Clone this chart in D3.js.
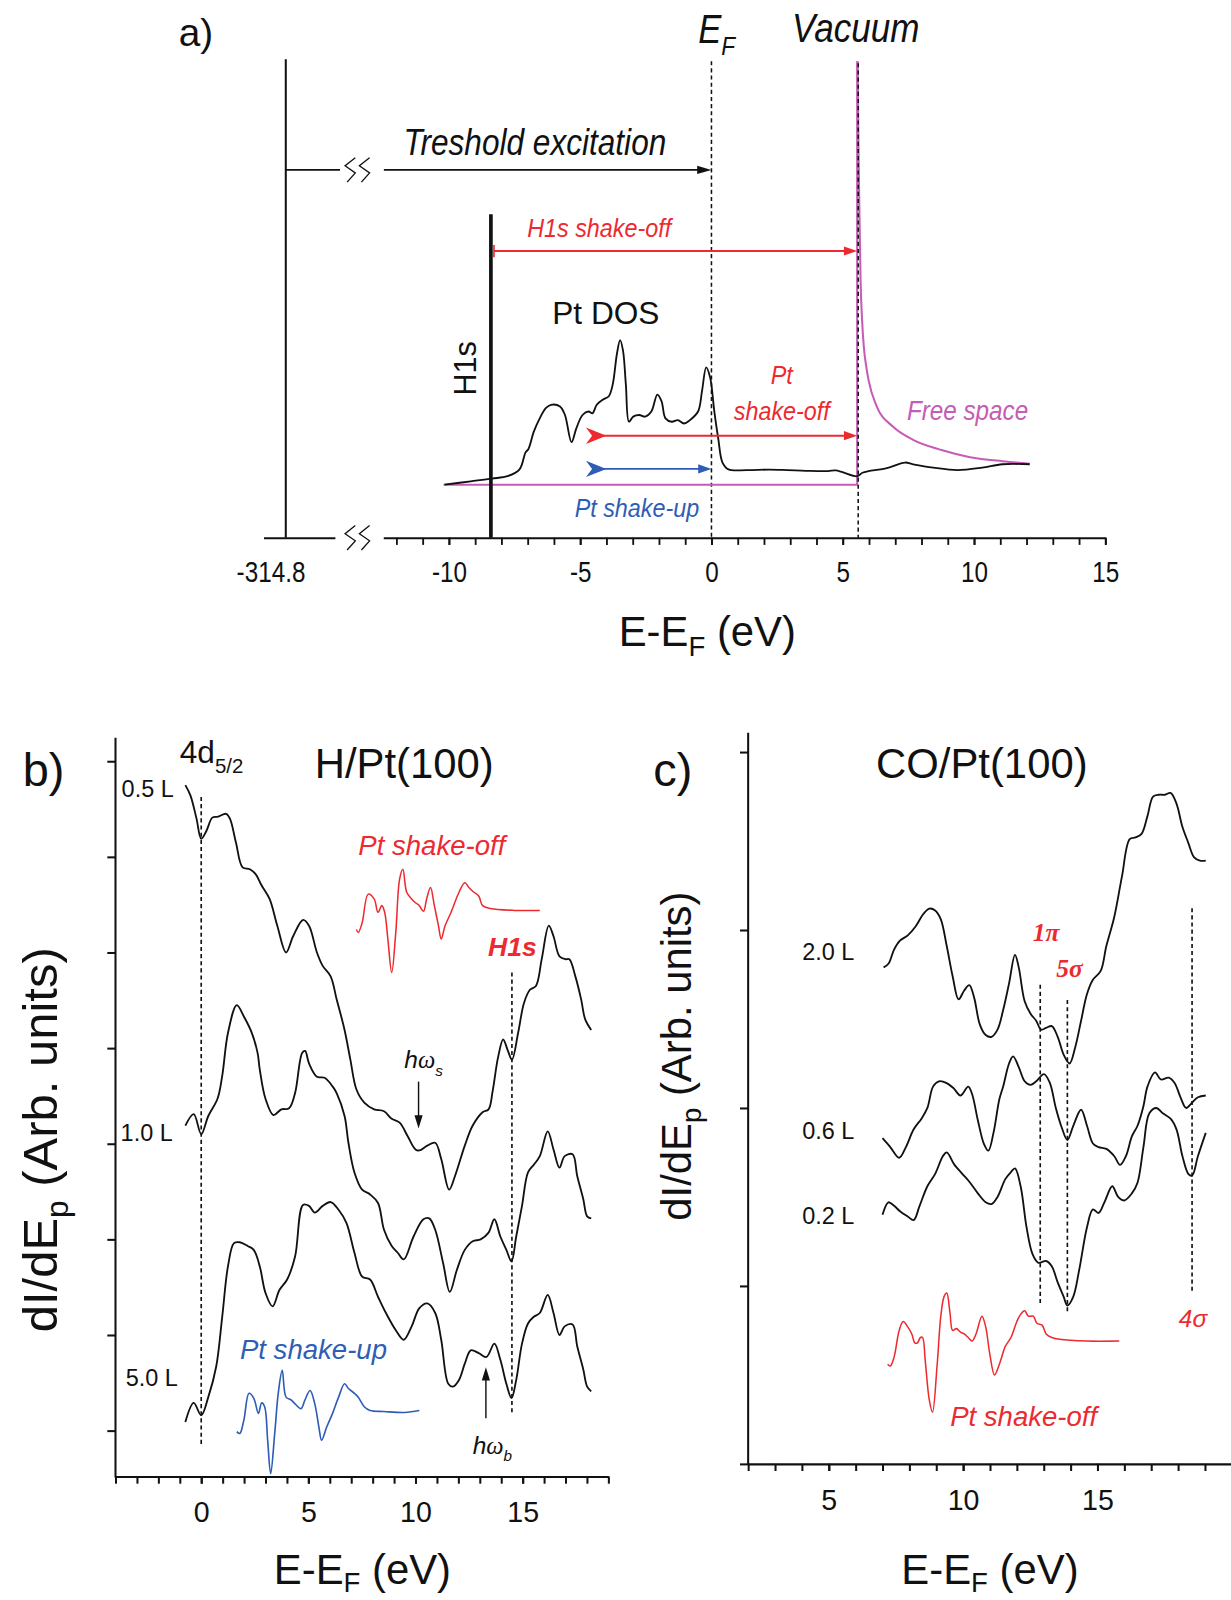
<!DOCTYPE html>
<html><head><meta charset="utf-8">
<script src="https://cdn.jsdelivr.net/npm/d3@7"></script>
<style>
html,body{margin:0;padding:0;background:#fff;}
svg{display:block;font-family:"Liberation Sans",Arial,Helvetica,sans-serif;}
</style></head><body>
<svg id="fig" width="1231" height="1600" viewBox="0 0 1206 1568"></svg>
<script>
// ---------------- energy levels (eV relative to E_F) ----------------
const coreLevel = -314.8;
const h1sLevel = -8.4;
const fermiLevel = 0;
const vacuumLevel = 5.55;
const shakeStart = -4.78;

// ---------------- panel a: Pt density of states [E, intensity] ----------------
const ptDOS = [[-10.17,0],[-9.17,3.3],[-8.36,6],[-7.77,8.3],[-7.31,15],[-7.08,31.7],[-6.97,35],[-6.77,51.7],
 [-6.54,65],[-6.31,75],[-6.11,78.3],[-5.77,76.7],[-5.58,68.3],[-5.33,41.7],[-5.15,55],[-4.91,68.3],[-4.68,71.7],
 [-4.53,70],[-4.37,78.3],[-4.14,83.3],[-3.91,86.7],[-3.76,98.3],[-3.60,128.3],[-3.48,141.7],[-3.37,131.7],
 [-3.26,98.3],[-3.14,61.7],[-2.98,66.7],[-2.75,68.3],[-2.52,66.7],[-2.29,71.7],[-2.06,88.3],[-1.90,81.7],
 [-1.75,65],[-1.51,61.7],[-1.28,63.3],[-1.05,60],[-0.82,63.3],[-0.51,71.7],[-0.36,91.7],[-0.20,115],[-0.05,105],
 [0.11,71.7],[0.26,45],[0.42,21.7],[0.65,15],[1.34,14.3],[2.2,14.8],[2.89,14.3],[3.6,13.6],[4.44,13.3],[4.74,14],
 [5.36,9],[5.55,8.3],[5.75,11.7],[5.98,13.3],[6.45,15],[6.75,16.7],[7.37,21.7],[7.68,20],[8.45,16.7],[9.38,14.3],
 [10.31,16.7],[11.08,20],[12.12,20]];
// free-electron continuum above the vacuum level
const freeSpace = [[5.57,415],[5.6,330],[5.64,260],[5.68,200],[5.74,160],[5.8,136],[5.9,115],[5.98,103],
 [6.29,77],[6.91,57],[7.68,44],[8.76,34],[9.85,27],[11.08,23],[12.12,20.6]];
const aTickLabels = [-10,-5,0,5,10,15];
const aMinorTicks = d3.range(-12, 16, 1);

// ---------------- panel b: H/Pt(100) spectra [E, dI/dEp] ----------------
const curve05L = [[-0.74,6.75],[-0.5,6.64],[-0.22,6.40],[0,6.19],[0.24,6.27],[0.52,6.41],[0.79,6.42],[1.16,6.45],
 [1.34,6.40],[1.62,6.15],[1.93,5.89],[2.27,5.87],[2.54,5.82],[2.82,5.70],[3.19,5.56],[3.55,5.28],[3.96,5.0],
 [4.29,5.17],[4.75,5.34],[5.03,5.28],[5.40,5.0],[5.67,4.86],[6.04,4.75],[6.32,4.51],[6.69,4.19],[6.96,3.88],
 [7.24,3.57],[7.61,3.43],[8.07,3.36],[8.53,3.34],[8.89,3.26],[9.26,3.22],[9.63,3.08],[10.0,2.94],[10.18,2.93],
 [10.55,2.98],[10.92,3.01],[11.20,2.84],[11.57,2.52],[11.84,2.66],[12.30,2.98],[12.67,3.19],[13.13,3.33],
 [13.41,3.36],[13.6,3.55],[13.85,3.9],[14.09,4.09],[14.3,3.98],[14.5,3.88],[14.79,4.16],[15.06,4.47],[15.34,4.61],
 [15.62,4.65],[15.89,4.93],[16.22,5.28],[16.44,5.17],[16.72,4.96],[17.0,4.93],[17.18,4.93],[17.46,4.75],
 [17.73,4.51],[17.92,4.30],[18.2,4.19]];
const curve10L = [[-0.74,3.19],[-0.35,3.31],[0,3.10],[0.33,3.29],[0.76,3.47],[0.98,3.71],[1.25,4.16],[1.66,4.45],
 [1.99,4.33],[2.36,4.16],[2.63,3.95],[2.73,3.78],[3.0,3.47],[3.37,3.30],[3.74,3.36],[4.1,3.37],[4.38,3.53],
 [4.71,3.95],[4.85,3.97],[5.03,3.84],[5.40,3.70],[5.76,3.69],[6.13,3.6],[6.32,3.53],[6.69,3.29],[6.87,3.01],
 [7.15,2.70],[7.51,2.52],[7.88,2.47],[8.25,2.38],[8.53,2.10],[8.89,1.93],[9.17,1.86],[9.45,1.79],[9.91,2.03],
 [10.37,2.21],[10.64,2.22],[10.92,2.10],[11.29,1.75],[11.60,1.45],[11.93,1.68],[12.3,1.89],[12.67,1.98],
 [13.04,2.0],[13.41,2.07],[13.68,2.21],[13.96,2.03],[14.24,1.89],[14.48,1.77],[14.7,2.03],[14.97,2.35],
 [15.25,2.70],[15.52,2.78],[15.8,2.87],[16.17,3.13],[16.44,2.94],[16.72,2.75],[16.96,2.87],[17.33,2.89],
 [17.55,2.66],[17.83,2.42],[18.01,2.24],[18.2,2.22]];
const curve50L = [[-0.74,0.09],[-0.35,0.29],[0,0.16],[0.33,0.35],[0.7,0.67],[0.98,1.19],[1.25,1.72],[1.53,1.96],
 [1.8,1.97],[2.17,1.93],[2.45,1.89],[2.73,1.72],[3.0,1.44],[3.33,1.30],[3.65,1.47],[4.01,1.58],[4.38,1.82],
 [4.75,2.36],[5.03,2.35],[5.3,2.28],[5.67,2.35],[6.04,2.39],[6.41,2.31],[6.78,2.17],[7.15,1.86],[7.51,1.61],
 [7.88,1.58],[8.25,1.40],[8.62,1.23],[9.08,1.05],[9.45,0.95],[9.82,1.09],[10.18,1.28],[10.55,1.33],[10.92,1.23],
 [11.2,0.95],[11.53,0.49],[11.75,0.46],[12.03,0.53],[12.3,0.70],[12.58,0.84],[12.95,0.81],[13.31,0.77],
 [13.68,0.91],[13.96,0.74],[14.24,0.49],[14.48,0.34],[14.7,0.53],[14.97,0.91],[15.25,1.12],[15.52,1.19],
 [15.8,1.23],[16.17,1.42],[16.44,1.23],[16.72,1.0],[16.96,1.09],[17.33,1.11],[17.55,0.88],[17.83,0.64],
 [18.01,0.46],[18.2,0.41]];
const shakeOffB = [[7.24,5.24],[7.33,5.21],[7.51,5.31],[7.79,5.61],[8.07,5.56],[8.25,5.42],[8.43,5.49],[8.56,5.42],
 [8.71,5.14],[8.89,4.79],[9.08,5.21],[9.26,5.77],[9.41,5.87],[9.59,5.63],[9.82,5.56],[10.0,5.52],[10.18,5.49],
 [10.37,5.43],[10.52,5.56],[10.7,5.68],[10.88,5.49],[11.07,5.28],[11.2,5.14],[11.38,5.28],[11.66,5.42],
 [12.03,5.63],[12.3,5.73],[12.49,5.68],[12.67,5.64],[12.95,5.59],[13.13,5.49],[13.5,5.46],[14.6,5.44],[15.8,5.44]];
const shakeUpB = [[1.66,-0.01],[1.8,-0.03],[1.99,0.11],[2.23,0.39],[2.45,0.34],[2.67,0.18],[2.82,0.29],[2.96,0.25],
 [3.1,-0.1],[3.24,-0.45],[3.43,-0.03],[3.6,0.4],[3.78,0.63],[3.96,0.35],[4.2,0.32],[4.38,0.28],[4.66,0.23],
 [4.84,0.32],[5.08,0.42],[5.3,0.28],[5.49,0.04],[5.62,-0.10],[5.86,0.04],[6.13,0.18],[6.41,0.35],[6.69,0.49],
 [6.87,0.44],[7.15,0.39],[7.33,0.35],[7.61,0.25],[7.88,0.21],[8.53,0.2],[9.5,0.19],[10.18,0.21]];
const bTickLabels = [0,5,10,15];
const bMinorTicks = d3.range(-4, 20, 1);
const bYTicks = d3.range(0, 8, 1);
const bMarkers = [0, 14.5];

// ---------------- panel c: CO/Pt(100) spectra [E, dI/dEp] ----------------
const curve20L = [[7.04,1.79],[7.22,1.81],[7.43,1.89],[7.65,1.94],[7.94,1.97],[8.23,2.02],[8.52,2.09],[8.74,2.12],
 [8.96,2.11],[9.17,2.06],[9.39,1.91],[9.61,1.74],[9.83,1.61],[10.04,1.66],[10.23,1.69],[10.41,1.62],[10.62,1.47],
 [10.84,1.41],[11.06,1.40],[11.28,1.44],[11.49,1.55],[11.71,1.70],[11.93,1.86],[12.07,1.79],[12.29,1.60],
 [12.51,1.53],[12.72,1.49],[12.9,1.44],[13.09,1.45],[13.30,1.46],[13.52,1.40],[13.74,1.30],[13.96,1.25],
 [14.17,1.34],[14.39,1.49],[14.61,1.64],[14.83,1.72],[15.12,1.77],[15.33,1.91],[15.62,2.07],[15.91,2.30],
 [16.2,2.51],[16.42,2.52],[16.64,2.54],[16.86,2.64],[17.07,2.75],[17.29,2.76],[17.51,2.76],[17.72,2.77],
 [17.94,2.71],[18.16,2.58],[18.38,2.49],[18.59,2.41],[18.81,2.39],[19.03,2.39]];
const curve06L = [[7.0,0.83],[7.29,0.78],[7.62,0.72],[7.87,0.78],[8.16,0.88],[8.45,0.94],[8.67,1.0],[8.88,1.12],
 [9.10,1.15],[9.39,1.14],[9.65,1.11],[9.9,1.07],[10.19,1.12],[10.33,1.08],[10.55,0.93],[10.77,0.80],[10.94,0.76],
 [11.13,0.86],[11.35,1.05],[11.49,1.12],[11.71,1.25],[11.86,1.29],[12.07,1.23],[12.29,1.15],[12.51,1.13],
 [12.72,1.15],[13.01,1.19],[13.23,1.14],[13.45,1.00],[13.67,0.89],[13.88,0.82],[14.1,0.90],[14.39,0.99],
 [14.61,0.90],[14.83,0.80],[15.04,0.78],[15.33,0.77],[15.62,0.73],[15.84,0.68],[16.06,0.73],[16.28,0.84],
 [16.49,0.90],[16.71,1.01],[16.86,1.12],[17.14,1.20],[17.36,1.16],[17.65,1.17],[17.87,1.14],[18.09,1.06],
 [18.30,1.0],[18.52,1.03],[18.74,1.06],[19.03,1.07]];
const curve02L = [[7.0,0.40],[7.22,0.47],[7.43,0.45],[7.65,0.42],[7.94,0.39],[8.16,0.37],[8.38,0.45],[8.67,0.56],
 [8.96,0.63],[9.25,0.73],[9.39,0.75],[9.68,0.68],[9.97,0.63],[10.26,0.58],[10.55,0.52],[10.84,0.47],[11.06,0.46],
 [11.28,0.50],[11.57,0.60],[11.78,0.64],[11.93,0.66],[12.14,0.56],[12.36,0.33],[12.58,0.18],[12.8,0.13],
 [13.09,0.14],[13.30,0.11],[13.52,0.02],[13.74,-0.06],[13.88,-0.11],[14.1,-0.06],[14.32,0.09],[14.61,0.33],
 [14.83,0.43],[15.04,0.41],[15.26,0.47],[15.55,0.56],[15.77,0.50],[15.99,0.48],[16.28,0.52],[16.49,0.58],
 [16.71,0.78],[16.93,0.97],[17.19,1.0],[17.43,0.97],[17.72,0.94],[17.94,0.88],[18.16,0.73],[18.38,0.63],
 [18.52,0.62],[18.74,0.73],[19.03,0.86]];
const shakeOffC = [[7.19,-0.44],[7.29,-0.45],[7.43,-0.40],[7.62,-0.25],[7.77,-0.20],[7.94,-0.23],[8.09,-0.27],
 [8.2,-0.32],[8.3,-0.32],[8.41,-0.29],[8.49,-0.29],[8.59,-0.42],[8.74,-0.64],[8.86,-0.71],[9.03,-0.45],
 [9.17,-0.17],[9.29,-0.06],[9.39,-0.04],[9.51,-0.15],[9.61,-0.25],[9.75,-0.24],[9.90,-0.26],[10.04,-0.27],
 [10.19,-0.29],[10.33,-0.31],[10.48,-0.27],[10.70,-0.17],[10.84,-0.23],[10.99,-0.38],[11.17,-0.50],[11.35,-0.44],
 [11.57,-0.34],[11.78,-0.29],[12.0,-0.20],[12.14,-0.16],[12.29,-0.14],[12.43,-0.17],[12.61,-0.17],[12.75,-0.21],
 [12.94,-0.22],[13.09,-0.27],[13.30,-0.29],[13.59,-0.30],[14.61,-0.31],[15.81,-0.31]];
const cTickLabels = [5,10,15];
const cMinorTicks = d3.range(2, 20, 1);
const cYTicks = d3.range(-1, 4, 1);
const cMarkers = [12.87, 13.88, 18.52];

// ---------------- styling ----------------
const RED = "#ec2a30", BLUE = "#2f5db6", MAG = "#c55cb5", INK = "#111";
const svg = d3.select("#fig");
const plainNum = d => String(d);   // ASCII hyphen for negatives

function addText(g, x, y, parts, o = {}) {
  const t = g.append("text").attr("x", x).attr("y", y)
    .attr("font-size", o.size || 24).attr("fill", o.color || INK)
    .attr("text-anchor", o.anchor || "start");
  if (o.italic) t.attr("font-style", "italic");
  if (o.bold) t.attr("font-weight", "bold");
  if (o.family) t.attr("font-family", o.family);
  if (o.transform) t.attr("transform", o.transform);
  parts.forEach(p => {
    const s = t.append("tspan").text(p.t);
    if (p.size) s.attr("font-size", p.size);
    if (p.dy) s.attr("dy", p.dy);
    if (p.italic) s.attr("font-style", "italic");
    if (p.family) s.attr("font-family", p.family);
  });
  return t;
}
// narrow lettering used in the energy diagram: text scaled horizontally about its anchor
function narrowText(g, x, y, parts, o = {}, sx = 0.86) {
  const w = g.append("g").attr("transform", `translate(${x},${y}) scale(${sx},1)`);
  return addText(w, 0, 0, parts, o);
}
function triHead(g, x, y, dir, color, len = 13, half = 4.5) {
  let p;
  if (dir === "r") p = [[x, y], [x - len, y - half], [x - len, y + half]];
  if (dir === "l") p = [[x, y], [x + len, y - half], [x + len, y + half]];
  if (dir === "d") p = [[x, y], [x - half, y - len], [x + half, y - len]];
  if (dir === "u") p = [[x, y], [x - half, y + len], [x + half, y + len]];
  g.append("path").attr("d", "M" + p.join("L") + "Z").attr("fill", color);
}
function barbHead(g, x, y, color) {
  g.append("path").attr("d", `M${x},${y - 8}L${x + 20},${y}L${x},${y + 8}L${x + 6},${y}Z`).attr("fill", color);
}
// axis-break mark
function zigzag(g, x, y) {
  g.append("path").attr("d", `M${x + 5},${y - 12}L${x - 5},${y - 4}L${x + 5},${y + 3}L${x - 3},${y + 12}`)
    .attr("fill", "none").attr("stroke", INK).attr("stroke-width", 1.3);
}

// =====================================================================
// Panel a: energy diagram
// =====================================================================
const ga = svg.append("g");
const xa = d3.scaleLinear().domain([-12.5, 15]).range([375.4, 1083]);
const xaCore = d3.scaleLinear().domain([-315.65, -312.93]).range([258, 328]);
const ya = d3.scaleLinear().domain([0, 415]).range([475, 60]);
const axisYa = 527;
const aLabelStyle = g => g.selectAll("text").attr("font-size", 29).attr("fill", INK)
  .attr("font-family", "Liberation Sans, Arial").attr("transform", "scale(0.82,1)");

// main energy axis
ga.append("g").attr("transform", `translate(0,${axisYa})`)
  .call(d3.axisBottom(xa).tickValues(aMinorTicks).tickSize(7).tickSizeOuter(0).tickFormat(""))
  .call(g => g.selectAll("path,line").attr("stroke", INK).attr("stroke-width", 1.8));
ga.append("g").attr("transform", `translate(0,${axisYa})`)
  .call(d3.axisBottom(xa).tickValues(aTickLabels).tickSize(7).tickSizeOuter(0).tickPadding(16).tickFormat(plainNum))
  .call(g => { g.select(".domain").remove(); g.selectAll("line").attr("stroke", INK).attr("stroke-width", 1.8); })
  .call(aLabelStyle);
// broken segment carrying the core level
ga.append("g").attr("transform", `translate(0,${axisYa})`)
  .call(d3.axisBottom(xaCore).tickValues([coreLevel]).tickSize(0).tickSizeOuter(0).tickPadding(23).tickFormat(plainNum))
  .call(g => { g.select(".domain").attr("stroke", INK).attr("stroke-width", 1.8); g.selectAll("line").remove(); })
  .call(aLabelStyle)
  .call(g => g.selectAll("text").attr("x", -15 / 0.82));
zigzag(ga, 343, axisYa);
zigzag(ga, 357, axisYa);

// core level and threshold excitation
const yThr = 166.5;
ga.append("line").attr("x1", xaCore(coreLevel)).attr("x2", xaCore(coreLevel)).attr("y1", 58).attr("y2", axisYa)
  .attr("stroke", INK).attr("stroke-width", 2);
ga.append("line").attr("x1", xaCore(coreLevel)).attr("x2", 333).attr("y1", yThr).attr("y2", yThr).attr("stroke", INK).attr("stroke-width", 1.6);
zigzag(ga, 343, yThr);
zigzag(ga, 357, yThr);
ga.append("line").attr("x1", 376).attr("x2", xa(fermiLevel) - 10).attr("y1", yThr).attr("y2", yThr).attr("stroke", INK).attr("stroke-width", 1.6);
triHead(ga, xa(fermiLevel), yThr, "r", INK, 14, 4);
narrowText(ga, 524, 152, [{ t: "Treshold excitation" }], { size: 36, italic: true, anchor: "middle" }, 0.86);

// E_F and vacuum levels
const dash = "4,3";
ga.append("line").attr("x1", xa(fermiLevel)).attr("x2", xa(fermiLevel)).attr("y1", 60).attr("y2", axisYa)
  .attr("stroke", INK).attr("stroke-width", 1.5).attr("stroke-dasharray", dash);

// free space (magenta) continuum and its floor
const lineA = d3.line().x(d => xa(d[0])).y(d => ya(d[1]));
ga.append("path").attr("d", lineA([[-10.2, 0], [vacuumLevel, 0], [vacuumLevel, 415]]))
  .attr("fill", "none").attr("stroke", MAG).attr("stroke-width", 2);
ga.append("path").attr("d", d3.line().x(d => xa(d[0])).y(d => ya(d[1])).curve(d3.curveMonotoneX)(freeSpace))
  .attr("fill", "none").attr("stroke", MAG).attr("stroke-width", 2);
ga.append("line").attr("x1", xa(vacuumLevel) + 1).attr("x2", xa(vacuumLevel) + 1).attr("y1", 62).attr("y2", axisYa)
  .attr("stroke", INK).attr("stroke-width", 1.5).attr("stroke-dasharray", dash);

// Pt DOS
ga.append("path").attr("d", d3.line().x(d => xa(d[0])).y(d => ya(d[1])).curve(d3.curveCatmullRom)(ptDOS))
  .attr("fill", "none").attr("stroke", INK).attr("stroke-width", 1.8);

// H1s level
ga.append("line").attr("x1", xa(h1sLevel)).attr("x2", xa(h1sLevel)).attr("y1", ya(265)).attr("y2", axisYa)
  .attr("stroke", INK).attr("stroke-width", 3.6);

// H1s shake-off arrow
const yH1s = ya(229);
ga.append("line").attr("x1", xa(h1sLevel) + 3).attr("x2", xa(h1sLevel) + 3).attr("y1", yH1s - 6).attr("y2", yH1s + 6).attr("stroke", RED).attr("stroke-width", 1.6);
ga.append("line").attr("x1", xa(h1sLevel) + 3).attr("x2", xa(vacuumLevel) - 10).attr("y1", yH1s).attr("y2", yH1s).attr("stroke", RED).attr("stroke-width", 1.8);
triHead(ga, xa(vacuumLevel), yH1s, "r", RED, 13, 4.5);
narrowText(ga, 587, 232, [{ t: "H1s shake-off" }], { size: 26, italic: true, color: RED, anchor: "middle" }, 0.88);

// Pt shake-off arrow
const yPtOff = ya(48);
barbHead(ga, xa(shakeStart), yPtOff, RED);
ga.append("line").attr("x1", xa(shakeStart) + 6).attr("x2", xa(vacuumLevel) - 10).attr("y1", yPtOff).attr("y2", yPtOff).attr("stroke", RED).attr("stroke-width", 1.8);
triHead(ga, xa(vacuumLevel), yPtOff, "r", RED, 13, 4.5);

// Pt shake-up arrow
const yPtUp = ya(15.5);
barbHead(ga, xa(shakeStart), yPtUp, BLUE);
ga.append("line").attr("x1", xa(shakeStart) + 6).attr("x2", xa(fermiLevel) - 10).attr("y1", yPtUp).attr("y2", yPtUp).attr("stroke", BLUE).attr("stroke-width", 1.8);
triHead(ga, xa(fermiLevel), yPtUp, "r", BLUE, 13, 4.5);

// panel a labels
addText(ga, 175, 45, [{ t: "a)" }], { size: 38 });
narrowText(ga, 684, 42, [{ t: "E" }, { t: "F", size: 26, dy: 12 }], { size: 40, italic: true }, 0.85);
narrowText(ga, 776, 41, [{ t: "Vacuum" }], { size: 40, italic: true }, 0.86);
addText(ga, 541, 318, [{ t: "Pt DOS" }], { size: 31 });
addText(ga, 0, 0, [{ t: "H1s" }], { size: 30, anchor: "middle", transform: "translate(466,361) rotate(-90)" });
narrowText(ga, 766, 376, [{ t: "Pt" }], { size: 26, italic: true, color: RED, anchor: "middle" }, 0.88);
narrowText(ga, 766, 412, [{ t: "shake-off" }], { size: 26, italic: true, color: RED, anchor: "middle" }, 0.88);
narrowText(ga, 948, 412, [{ t: "Free space" }], { size: 27, italic: true, color: MAG, anchor: "middle" }, 0.88);
narrowText(ga, 624, 507, [{ t: "Pt shake-up" }], { size: 26, italic: true, color: BLUE, anchor: "middle" }, 0.88);
addText(ga, 693, 633, [{ t: "E-E" }, { t: "F", size: 27, dy: 10 }, { t: " (eV)", dy: -10 }], { size: 41, anchor: "middle" });

// =====================================================================
// helpers for the spectra panels
// =====================================================================
function spectraFrame(g, xs, ys, xMinor, xMajor, yTicks, axisX, axisY, yTop) {
  g.append("line").attr("x1", axisX).attr("x2", axisX).attr("y1", yTop).attr("y2", axisY + 1)
    .attr("stroke", INK).attr("stroke-width", 2);
  g.append("g").attr("transform", `translate(0,${axisY})`)
    .call(d3.axisBottom(xs).tickValues(xMinor).tickSize(7).tickSizeOuter(0).tickFormat(""))
    .call(a => a.selectAll("path,line").attr("stroke", INK).attr("stroke-width", 2));
  g.append("g").attr("transform", `translate(0,${axisY})`)
    .call(d3.axisBottom(xs).tickValues(xMajor).tickSize(7).tickSizeOuter(0).tickPadding(18).tickFormat(plainNum))
    .call(a => { a.select(".domain").remove(); a.selectAll("line").attr("stroke", INK).attr("stroke-width", 2); })
    .call(a => a.selectAll("text").attr("font-size", 28).attr("fill", INK).attr("font-family", "Liberation Sans, Arial"));
  g.append("g").attr("transform", `translate(${axisX},0)`)
    .call(d3.axisLeft(ys).tickValues(yTicks).tickSize(8).tickSizeOuter(0).tickFormat(""))
    .call(a => { a.select(".domain").remove(); a.selectAll("line").attr("stroke", INK).attr("stroke-width", 2); });
}
function drawCurve(g, xs, ys, data, color, w) {
  g.append("path").attr("d", d3.line().x(d => xs(d[0])).y(d => ys(d[1])).curve(d3.curveCatmullRom)(data))
    .attr("fill", "none").attr("stroke", color).attr("stroke-width", w).attr("stroke-linejoin", "round");
}
function vDash(g, x, y1, y2) {
  g.append("line").attr("x1", x).attr("x2", x).attr("y1", y1).attr("y2", y2)
    .attr("stroke", INK).attr("stroke-width", 1.6).attr("stroke-dasharray", dash);
}

// =====================================================================
// Panel b: H/Pt(100)
// =====================================================================
const gb = svg.append("g");
const xb = d3.scaleLinear().domain([-4, 19]).range([113, 596]);
const yb = d3.scaleLinear().domain([0, 7]).range([1402, 746]);
spectraFrame(gb, xb, yb, bMinorTicks, bTickLabels, bYTicks, 113, 1447, 723);

vDash(gb, xb(bMarkers[0]), 781, 1416);
vDash(gb, xb(bMarkers[1]), 953, 1386);

drawCurve(gb, xb, yb, curve05L, INK, 1.8);
drawCurve(gb, xb, yb, curve10L, INK, 1.8);
drawCurve(gb, xb, yb, curve50L, INK, 1.8);
drawCurve(gb, xb, yb, shakeOffB, RED, 1.5);
drawCurve(gb, xb, yb, shakeUpB, BLUE, 1.6);

addText(gb, 22, 770, [{ t: "b)" }], { size: 46 });
addText(gb, 396, 762, [{ t: "H/Pt(100)" }], { size: 41, anchor: "middle" });
addText(gb, 176, 748, [{ t: "4d" }, { t: "5/2", size: 20, dy: 10 }], { size: 31 });
addText(gb, 119, 781, [{ t: "0.5 L" }], { size: 23 });
addText(gb, 118, 1118, [{ t: "1.0 L" }], { size: 23 });
addText(gb, 123, 1358, [{ t: "5.0 L" }], { size: 23 });
addText(gb, 423, 838, [{ t: "Pt shake-off" }], { size: 27, italic: true, color: RED, anchor: "middle" });
addText(gb, 502, 937, [{ t: "H1s" }], { size: 26, italic: true, bold: true, color: RED, anchor: "middle" });
addText(gb, 396, 1047, [{ t: "h" }, { t: "ω", family: "Liberation Serif, serif" }, { t: "s", size: 15, dy: 7 }], { size: 24, italic: true });
gb.append("line").attr("x1", 410).attr("x2", 410).attr("y1", 1060).attr("y2", 1096).attr("stroke", INK).attr("stroke-width", 1.4);
triHead(gb, 410, 1106, "d", INK, 13, 4);
addText(gb, 463, 1425, [{ t: "h" }, { t: "ω", family: "Liberation Serif, serif" }, { t: "b", size: 15, dy: 7 }], { size: 24, italic: true });
gb.append("line").attr("x1", 476).attr("x2", 476).attr("y1", 1390).attr("y2", 1350).attr("stroke", INK).attr("stroke-width", 1.4);
triHead(gb, 476, 1340, "u", INK, 13, 4);
addText(gb, 307, 1332, [{ t: "Pt shake-up" }], { size: 27, italic: true, color: BLUE, anchor: "middle" });
addText(gb, 355, 1552, [{ t: "E-E" }, { t: "F", size: 27, dy: 8 }, { t: " (eV)", dy: -8 }], { size: 41, anchor: "middle" });
addText(gb, 0, 0, [{ t: "dI/dE" }, { t: "p", size: 31, dy: 10 }, { t: " (Arb. units)", dy: -10 }],
  { size: 48, anchor: "middle", transform: "translate(56,1117) rotate(-90)" });

// =====================================================================
// Panel c: CO/Pt(100)
// =====================================================================
const gc = svg.append("g");
const xc = d3.scaleLinear().domain([2, 20]).range([733, 1207]);
const yc = d3.scaleLinear().domain([-1, 3]).range([1434.6, 737]);
spectraFrame(gc, xc, yc, cMinorTicks, cTickLabels, cYTicks, 733, 1434.6, 718);

vDash(gc, xc(cMarkers[0]), 965, 1277);
vDash(gc, xc(cMarkers[1]), 980, 1288);
vDash(gc, xc(cMarkers[2]), 890, 1267);

drawCurve(gc, xc, yc, curve20L, INK, 1.8);
drawCurve(gc, xc, yc, curve06L, INK, 1.8);
drawCurve(gc, xc, yc, curve02L, INK, 1.8);
drawCurve(gc, xc, yc, shakeOffC, RED, 1.5);

addText(gc, 640, 770, [{ t: "c)" }], { size: 46 });
addText(gc, 962, 762, [{ t: "CO/Pt(100)" }], { size: 41, anchor: "middle" });
addText(gc, 786, 941, [{ t: "2.0 L" }], { size: 23 });
addText(gc, 786, 1116, [{ t: "0.6 L" }], { size: 23 });
addText(gc, 786, 1200, [{ t: "0.2 L" }], { size: 23 });
addText(gc, 1025, 922, [{ t: "1π" }], { size: 25, italic: true, bold: true, color: RED, anchor: "middle", family: "Liberation Serif, serif" });
addText(gc, 1048, 957, [{ t: "5σ" }], { size: 25, italic: true, bold: true, color: RED, anchor: "middle", family: "Liberation Serif, serif" });
addText(gc, 1169, 1300, [{ t: "4σ" }], { size: 24, italic: true, color: RED, anchor: "middle" });
addText(gc, 1003, 1397, [{ t: "Pt shake-off" }], { size: 27, italic: true, color: RED, anchor: "middle" });
addText(gc, 970, 1552, [{ t: "E-E" }, { t: "F", size: 27, dy: 8 }, { t: " (eV)", dy: -8 }], { size: 41, anchor: "middle" });
addText(gc, 0, 0, [{ t: "dI/dE" }, { t: "p", size: 27, dy: 10 }, { t: " (Arb. units)", dy: -10 }],
  { size: 41, anchor: "middle", transform: "translate(677,1035) rotate(-90)" });
</script></body></html>
